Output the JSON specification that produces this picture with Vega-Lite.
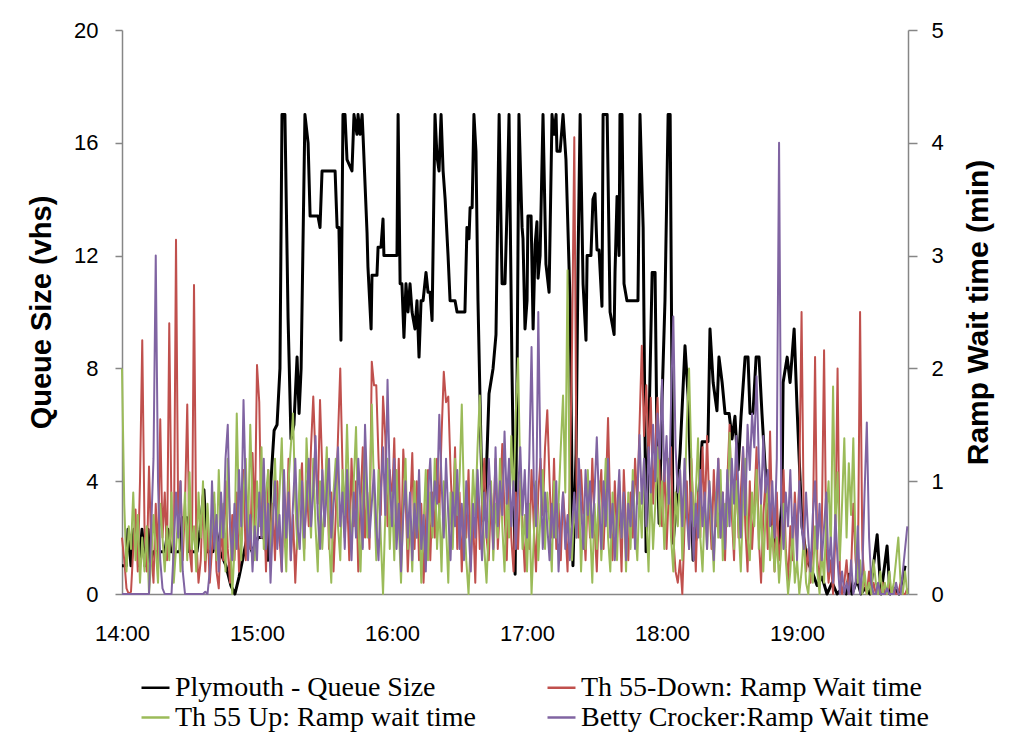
{
"$schema": "https://vega.github.io/schema/vega-lite/v6.json",
"width": 786, "height": 564,
"autosize": {"type": "none"},
"padding": {"left": 122, "top": 30, "right": 101, "bottom": 146},
"background": "white",
"config": {
  "view": {"stroke": null},
  "axis": {"grid": false, "domainColor": "#868686", "tickColor": "#868686", "labelColor": "#000000", "titleColor": "#000000", "labelFont": "Liberation Sans", "titleFont": "Liberation Sans", "labelFontSize": 22, "titleFontSize": 29, "titleFontWeight": "bold", "domainWidth": 1.5, "tickWidth": 1.5},
  "legend": {"orient": "none", "legendX": 18, "legendY": 642, "direction": "horizontal", "columns": 2,
             "symbolType": "stroke", "symbolSize": 784, "symbolStrokeWidth": 2.5, "labelFont": "Liberation Serif", "labelFontSize": 28, "labelColor": "#000000", "labelLimit": 0, "labelOffset": 4, "columnPadding": 66, "rowPadding": 0}
},
"datasets": {
"queue": [
{"t":0,"q":1.0},{"t":1.8,"q":1.0},{"t":2.7,"q":2.3},{"t":4.0,"q":1.0},{"t":5.3,"q":2.3},{"t":6.7,"q":2.3},{"t":7.6,"q":1.0},{"t":8.9,"q":2.3},{"t":10.2,"q":1.0},{"t":11.6,"q":2.3},{"t":12.4,"q":1.0},{"t":13.8,"q":1.5},{"t":19.1,"q":1.5},{"t":20.4,"q":2.3},{"t":21.8,"q":1.5},{"t":25.8,"q":1.5},{"t":26.7,"q":2.7},{"t":28.9,"q":2.7},{"t":29.8,"q":1.5},{"t":33.3,"q":1.5},{"t":34.7,"q":2.3},{"t":36.4,"q":3.7},{"t":37.8,"q":1.5},{"t":40.4,"q":1.5},{"t":41.8,"q":2.3},{"t":43.6,"q":1.5},{"t":46.2,"q":1.0},{"t":48.4,"q":0.3},{"t":50.2,"q":0.0},{"t":52.0,"q":0.6},{"t":53.8,"q":1.3},{"t":55.6,"q":2.0},{"t":57.8,"q":1.5},{"t":60.4,"q":2.0},{"t":63.1,"q":2.0},{"t":64.9,"q":1.2},{"t":66.2,"q":4.0},{"t":67.6,"q":5.8},{"t":68.9,"q":6.0},{"t":70.2,"q":8.0},{"t":71.1,"q":17},{"t":72.4,"q":17},{"t":73.8,"q":9.8},{"t":75.1,"q":5.5},{"t":76.4,"q":6.0},{"t":77.8,"q":8.4},{"t":78.7,"q":6.4},{"t":79.6,"q":8.0},{"t":81.3,"q":17},{"t":82.7,"q":16.0},{"t":83.6,"q":13.4},{"t":87.1,"q":13.4},{"t":88.0,"q":13.0},{"t":88.9,"q":15.0},{"t":94.7,"q":15.0},{"t":95.6,"q":13.0},{"t":96.4,"q":13.0},{"t":97.3,"q":9.0},{"t":98.2,"q":17},{"t":99.1,"q":17},{"t":100.0,"q":15.4},{"t":102.2,"q":15.0},{"t":103.1,"q":17},{"t":104.4,"q":16.3},{"t":104.9,"q":17},{"t":105.8,"q":16.3},{"t":106.7,"q":17},{"t":107.1,"q":16.3},{"t":108.9,"q":12.8},{"t":109.3,"q":11.6},{"t":110.7,"q":9.4},{"t":111.1,"q":11.3},{"t":113.3,"q":11.3},{"t":113.8,"q":12.3},{"t":115.1,"q":12.3},{"t":116.0,"q":13.3},{"t":116.4,"q":12.0},{"t":122.2,"q":12.0},{"t":122.7,"q":17},{"t":123.6,"q":11.0},{"t":124.4,"q":11.0},{"t":125.3,"q":9.1},{"t":126.2,"q":11.0},{"t":127.1,"q":10.0},{"t":128.0,"q":11.0},{"t":128.9,"q":10.0},{"t":130.2,"q":9.4},{"t":131.1,"q":10.4},{"t":132.0,"q":8.4},{"t":132.9,"q":10.4},{"t":133.8,"q":10.4},{"t":135.1,"q":11.4},{"t":136.0,"q":10.7},{"t":136.9,"q":10.7},{"t":137.8,"q":9.7},{"t":139.1,"q":17},{"t":140.0,"q":15.5},{"t":140.9,"q":15.0},{"t":141.8,"q":17},{"t":142.7,"q":15.0},{"t":143.6,"q":14.0},{"t":144.9,"q":12.0},{"t":145.8,"q":10.4},{"t":148.0,"q":10.4},{"t":148.9,"q":10.0},{"t":152.4,"q":10.0},{"t":153.3,"q":13.0},{"t":154.2,"q":12.6},{"t":154.7,"q":13.7},{"t":155.6,"q":13.7},{"t":156.4,"q":17},{"t":157.3,"q":15.7},{"t":158.2,"q":10.4},{"t":159.6,"q":5.0},{"t":160.4,"q":2.6},{"t":161.8,"q":4.0},{"t":163.1,"q":7.1},{"t":164.9,"q":8.0},{"t":166.2,"q":9.2},{"t":167.6,"q":17},{"t":168.9,"q":11.0},{"t":170.2,"q":11.0},{"t":171.1,"q":13.6},{"t":172.0,"q":17},{"t":173.3,"q":8.0},{"t":174.7,"q":0.7},{"t":175.6,"q":8.0},{"t":176.4,"q":17},{"t":177.8,"q":13.0},{"t":178.2,"q":12.6},{"t":179.1,"q":9.4},{"t":180.0,"q":10.4},{"t":180.4,"q":13.4},{"t":181.8,"q":13.4},{"t":182.7,"q":9.4},{"t":183.6,"q":12.4},{"t":184.4,"q":13.2},{"t":184.9,"q":11.2},{"t":185.8,"q":12.0},{"t":187.1,"q":17},{"t":188.4,"q":11.7},{"t":189.8,"q":10.7},{"t":191.1,"q":17},{"t":192.0,"q":16.3},{"t":192.9,"q":17},{"t":193.3,"q":15.7},{"t":194.7,"q":15.7},{"t":196.0,"q":17},{"t":197.3,"q":15.4},{"t":199.1,"q":10.4},{"t":200.4,"q":1.0},{"t":201.8,"q":5.0},{"t":202.7,"q":12.0},{"t":203.6,"q":17},{"t":204.9,"q":11.0},{"t":206.2,"q":9.0},{"t":206.7,"q":12.0},{"t":208.4,"q":12.0},{"t":209.3,"q":14.0},{"t":210.2,"q":14.2},{"t":211.1,"q":12.2},{"t":212.0,"q":12.2},{"t":213.3,"q":10.2},{"t":213.8,"q":17},{"t":215.6,"q":17},{"t":216.9,"q":10.0},{"t":218.7,"q":9.2},{"t":219.1,"q":11.4},{"t":220.0,"q":14.1},{"t":220.9,"q":12.0},{"t":221.3,"q":17},{"t":222.2,"q":17},{"t":223.1,"q":11.0},{"t":224.4,"q":10.4},{"t":229.3,"q":10.4},{"t":230.2,"q":17},{"t":231.6,"q":13.0},{"t":232.9,"q":1.5},{"t":234.2,"q":6.0},{"t":235.6,"q":11.4},{"t":236.9,"q":11.4},{"t":237.8,"q":5.0},{"t":238.7,"q":2.5},{"t":240.0,"q":6.9},{"t":241.3,"q":10.4},{"t":242.7,"q":17},{"t":243.6,"q":17},{"t":244.9,"q":1.8},{"t":246.2,"q":3.0},{"t":248.0,"q":5.0},{"t":250.2,"q":8.8},{"t":251.6,"q":7.0},{"t":253.8,"q":1.2},{"t":255.1,"q":2.0},{"t":257.8,"q":5.4},{"t":260.4,"q":5.4},{"t":261.3,"q":9.4},{"t":262.7,"q":7.5},{"t":264.4,"q":6.5},{"t":265.3,"q":8.4},{"t":266.7,"q":7.5},{"t":268.0,"q":6.4},{"t":269.8,"q":6.4},{"t":271.1,"q":5.5},{"t":272.4,"q":6.3},{"t":273.8,"q":4.4},{"t":275.1,"q":6.3},{"t":276.9,"q":8.4},{"t":278.2,"q":8.4},{"t":279.1,"q":6.4},{"t":280.4,"q":6.4},{"t":281.8,"q":8.4},{"t":283.1,"q":8.4},{"t":284.4,"q":6.4},{"t":285.8,"q":4.5},{"t":287.1,"q":3.3},{"t":289.3,"q":2.3},{"t":291.6,"q":1.4},{"t":293.3,"q":3.3},{"t":293.8,"q":7.5},{"t":295.6,"q":8.4},{"t":296.9,"q":7.5},{"t":298.7,"q":9.4},{"t":300.0,"q":6.6},{"t":302.2,"q":2.4},{"t":304.4,"q":1.2},{"t":306.7,"q":0.8},{"t":308.9,"q":0.3},{"t":311.1,"q":0.6},{"t":313.3,"q":0.0},{"t":315.6,"q":0.4},{"t":317.8,"q":0.0},{"t":320.0,"q":0.2},{"t":321.8,"q":0.0},{"t":323.1,"q":0.7},{"t":324.4,"q":0.0},{"t":326.7,"q":0.5},{"t":328.4,"q":0.0},{"t":330.2,"q":0.2},{"t":332.4,"q":0.0},{"t":335.6,"q":2.1},{"t":337.3,"q":0.0},{"t":340.0,"q":1.7},{"t":341.3,"q":0.0},{"t":343.1,"q":0.2},{"t":345.3,"q":0.0},{"t":347.1,"q":0.6},{"t":348.0,"q":1.0}
],
"ramp": [
{"t":0,"r":0.5,"g":2.0,"p":0},{"t":1,"r":0.3,"g":0.8,"p":0},{"t":2,"r":0.05,"g":0.2,"p":0},{"t":3,"r":0,"g":0.6,"p":0},{"t":4,"r":0.02,"g":0.4,"p":0},{"t":5,"r":0.4,"g":0.9,"p":0},{"t":6,"r":0.75,"g":0.3,"p":0},{"t":7,"r":0.2,"g":0.7,"p":0},{"t":8,"r":1.0,"g":0.1,"p":0},{"t":9,"r":2.25,"g":0.5,"p":0},
{"t":10,"r":0.6,"g":0.2,"p":0},{"t":11,"r":0.2,"g":0.6,"p":0},{"t":12,"r":1.13,"g":0,"p":0},{"t":13,"r":0.4,"g":0.3,"p":0.6},{"t":14,"r":0.1,"g":0.7,"p":1.2},{"t":15,"r":0.8,"g":0.4,"p":3.0},{"t":16,"r":0.3,"g":0.1,"p":1.0},{"t":17,"r":1.55,"g":0.8,"p":0.3},{"t":18,"r":0.5,"g":0.5,"p":0.05},{"t":19,"r":0.9,"g":0.2,"p":0},
{"t":20,"r":0.3,"g":0.6,"p":0},{"t":21,"r":2.4,"g":0.3,"p":0},{"t":22,"r":0.7,"g":0.9,"p":0},{"t":23,"r":0.2,"g":0.1,"p":0.4},{"t":24,"r":3.14,"g":0.4,"p":0.9},{"t":25,"r":0.6,"g":0.7,"p":0.5},{"t":26,"r":1.0,"g":0.2,"p":1.0},{"t":27,"r":0.3,"g":0.5,"p":0.2},{"t":28,"r":0.8,"g":0.9,"p":0},{"t":29,"r":1.68,"g":0.3,"p":0},
{"t":30,"r":0.4,"g":1.08,"p":0},{"t":31,"r":0.2,"g":0.4,"p":0},{"t":32,"r":2.74,"g":0.6,"p":0},{"t":33,"r":0.5,"g":0.2,"p":0},{"t":34,"r":0.1,"g":0.9,"p":0},{"t":35,"r":0.3,"g":0.5,"p":0},{"t":36,"r":0.9,"g":1.0,"p":0},{"t":37,"r":0.2,"g":0.3,"p":0.02},{"t":38,"r":0.6,"g":0.8,"p":0},{"t":39,"r":0.1,"g":0.4,"p":0.2},
{"t":40,"r":0.4,"g":0.6,"p":1.0},{"t":41,"r":0.8,"g":0.9,"p":0.4},{"t":42,"r":0.2,"g":0.3,"p":0.7},{"t":43,"r":0.05,"g":1.1,"p":0.2},{"t":44,"r":0.6,"g":0.5,"p":0.9},{"t":45,"r":0.3,"g":0.8,"p":0.5},{"t":46,"r":1.0,"g":0.2,"p":1.2},{"t":47,"r":0.4,"g":1.2,"p":1.5},{"t":48,"r":0.1,"g":0.6,"p":0.6},{"t":49,"r":0.7,"g":0,"p":0.3},
{"t":50,"r":0.3,"g":0.4,"p":0.8},{"t":51,"r":0.9,"g":1.6,"p":0.4},{"t":52,"r":0.2,"g":0.7,"p":1.1},{"t":53,"r":0.5,"g":0.3,"p":0.6},{"t":54,"r":1.1,"g":0.9,"p":1.72},{"t":55,"r":0.3,"g":1.2,"p":0.9},{"t":56,"r":0.8,"g":0.5,"p":0.3},{"t":57,"r":0.4,"g":1.5,"p":0.7},{"t":58,"r":1.25,"g":0.8,"p":0.2},{"t":59,"r":0.6,"g":0.3,"p":0.6},
{"t":60,"r":2.03,"g":1.0,"p":0.3},{"t":61,"r":1.7,"g":0.6,"p":0.9},{"t":62,"r":0.5,"g":1.3,"p":0.5},{"t":63,"r":0.9,"g":0.4,"p":1.2},{"t":64,"r":0.2,"g":0.9,"p":0.4},{"t":65,"r":1.1,"g":1.1,"p":0.8},{"t":66,"r":0.4,"g":0.3,"p":0.1},{"t":67,"r":0.8,"g":0.7,"p":0.6},{"t":68,"r":0.3,"g":1.2,"p":1.0},{"t":69,"r":1.0,"g":0.5,"p":0.4},
{"t":70,"r":0.5,"g":0.9,"p":0.7},{"t":71,"r":0.2,"g":1.38,"p":0.2},{"t":72,"r":0.9,"g":0.6,"p":1.1},{"t":73,"r":0.4,"g":0.2,"p":0.5},{"t":74,"r":1.2,"g":1.0,"p":0.9},{"t":75,"r":0.3,"g":1.3,"p":0.3},{"t":76,"r":0.7,"g":1.6,"p":0.8},{"t":77,"r":0.1,"g":0.8,"p":1.2},{"t":78,"r":0.6,"g":0.4,"p":0.6},{"t":79,"r":0.9,"g":1.1,"p":0.4},
{"t":80,"r":1.16,"g":0.7,"p":1.0},{"t":81,"r":0.4,"g":0.3,"p":0.5},{"t":82,"r":1.0,"g":1.38,"p":0.8},{"t":83,"r":0.6,"g":0.9,"p":1.2},{"t":84,"r":1.3,"g":0.5,"p":0.6},{"t":85,"r":1.75,"g":1.2,"p":0.9},{"t":86,"r":1.2,"g":0.6,"p":1.4},{"t":87,"r":0.8,"g":0.2,"p":0.7},{"t":88,"r":1.72,"g":1.0,"p":0.4},{"t":89,"r":1.1,"g":0.4,"p":1.1},
{"t":90,"r":0.6,"g":0.8,"p":0.6},{"t":91,"r":1.2,"g":1.3,"p":0.9},{"t":92,"r":0.4,"g":0.5,"p":1.2},{"t":93,"r":0.9,"g":0.1,"p":0.5},{"t":94,"r":0.2,"g":0.9,"p":0.8},{"t":95,"r":0.7,"g":1.2,"p":1.0},{"t":96,"r":1.4,"g":0.6,"p":1.3},{"t":97,"r":2.0,"g":0.3,"p":0.6},{"t":98,"r":1.1,"g":1.1,"p":0.9},{"t":99,"r":0.5,"g":0.7,"p":0.4},
{"t":100,"r":0.9,"g":1.5,"p":1.1},{"t":101,"r":0.3,"g":0.8,"p":0.7},{"t":102,"r":1.2,"g":0.4,"p":0.3},{"t":103,"r":0.6,"g":1.0,"p":0.9},{"t":104,"r":1.0,"g":1.48,"p":0.5},{"t":105,"r":0.2,"g":0.6,"p":1.2},{"t":106,"r":0.8,"g":0.2,"p":0.8},{"t":107,"r":1.3,"g":0.9,"p":0.4},{"t":108,"r":0.5,"g":1.3,"p":1.5},{"t":109,"r":0.9,"g":0.5,"p":0.9},
{"t":110,"r":0.4,"g":0.8,"p":0.5},{"t":111,"r":2.06,"g":1.68,"p":0.8},{"t":112,"r":1.85,"g":0.9,"p":1.1},{"t":113,"r":1.85,"g":0.3,"p":0.6},{"t":114,"r":1.2,"g":1.1,"p":0.3},{"t":115,"r":0.7,"g":0.5,"p":0.9},{"t":116,"r":1.75,"g":0,"p":1.3},{"t":117,"r":1.4,"g":0.7,"p":0.7},{"t":118,"r":0.6,"g":1.2,"p":1.9},{"t":119,"r":1.1,"g":0.4,"p":1.0},
{"t":120,"r":0.8,"g":0.9,"p":0.6},{"t":121,"r":1.38,"g":0.3,"p":1.2},{"t":122,"r":0.5,"g":1.1,"p":0.4},{"t":123,"r":1.2,"g":0.6,"p":0.8},{"t":124,"r":0.3,"g":0.1,"p":0.2},{"t":125,"r":1.28,"g":0.8,"p":0.7},{"t":126,"r":0.9,"g":1.2,"p":1.0},{"t":127,"r":0.2,"g":0.4,"p":0.5},{"t":128,"r":0.7,"g":0.7,"p":0.9},{"t":129,"r":1.25,"g":0.2,"p":0.3},
{"t":130,"r":0.4,"g":1.0,"p":0.8},{"t":131,"r":1.0,"g":0.5,"p":0.5},{"t":132,"r":0.3,"g":0.8,"p":1.1},{"t":133,"r":0.8,"g":0.1,"p":0.4},{"t":134,"r":0.1,"g":0.6,"p":0.7},{"t":135,"r":0.6,"g":1.1,"p":0.2},{"t":136,"r":1.1,"g":0.3,"p":0.9},{"t":137,"r":0.3,"g":0.9,"p":1.2},{"t":138,"r":0.9,"g":0.5,"p":0.6},{"t":139,"r":0.5,"g":1.2,"p":1.0},
{"t":140,"r":1.2,"g":0.4,"p":0.8},{"t":141,"r":0.7,"g":0.8,"p":1.59},{"t":142,"r":1.4,"g":0.2,"p":1.0},{"t":143,"r":1.97,"g":1.0,"p":0.5},{"t":144,"r":1.7,"g":0.6,"p":1.2},{"t":145,"r":1.75,"g":0.1,"p":0.7},{"t":146,"r":1.1,"g":0.9,"p":0.3},{"t":147,"r":0.6,"g":0.4,"p":0.9},{"t":148,"r":1.3,"g":1.2,"p":0.6},{"t":149,"r":0.4,"g":0.7,"p":1.1},
{"t":150,"r":0.9,"g":1.0,"p":0.4},{"t":151,"r":0.2,"g":1.68,"p":0.8},{"t":152,"r":0.8,"g":0.8,"p":0.3},{"t":153,"r":0.5,"g":0.3,"p":1.0},{"t":154,"r":1.1,"g":0,"p":0.6},{"t":155,"r":0.3,"g":0.5,"p":0.2},{"t":156,"r":0.7,"g":1.1,"p":0.8},{"t":157,"r":0.1,"g":0.7,"p":0.5},{"t":158,"r":1.0,"g":1.3,"p":1.1},{"t":159,"r":0.4,"g":1.76,"p":0.7},
{"t":160,"r":0.8,"g":0.9,"p":0.3},{"t":161,"r":1.2,"g":0.4,"p":0.9},{"t":162,"r":0.5,"g":0.1,"p":0.5},{"t":163,"r":0.3,"g":0.6,"p":1.2},{"t":164,"r":0.9,"g":1.0,"p":0.8},{"t":165,"r":0.6,"g":0.3,"p":0.4},{"t":166,"r":1.2,"g":0.8,"p":1.3},{"t":167,"r":0.4,"g":0.5,"p":0.6},{"t":168,"r":0.8,"g":1.2,"p":1.0},{"t":169,"r":1.33,"g":0.6,"p":0.7},
{"t":170,"r":0.7,"g":0.2,"p":1.44},{"t":171,"r":0.3,"g":0.9,"p":0.8},{"t":172,"r":1.1,"g":0.5,"p":1.2},{"t":173,"r":0.5,"g":1.4,"p":0.6},{"t":174,"r":0.2,"g":0.8,"p":1.0},{"t":175,"r":0.9,"g":1.6,"p":0.4},{"t":176,"r":0.4,"g":2.09,"p":0.9},{"t":177,"r":1.0,"g":1.0,"p":1.3},{"t":178,"r":0.6,"g":0.4,"p":0.7},{"t":179,"r":0.2,"g":0.7,"p":1.1},
{"t":180,"r":0.8,"g":0.2,"p":0.5},{"t":181,"r":0.4,"g":0.8,"p":1.2},{"t":182,"r":1.1,"g":0,"p":2.19},{"t":183,"r":0.6,"g":0.5,"p":1.0},{"t":184,"r":0.2,"g":1.0,"p":0.6},{"t":185,"r":0.9,"g":0.3,"p":2.5},{"t":186,"r":1.2,"g":0.7,"p":1.1},{"t":187,"r":0.7,"g":1.1,"p":0.4},{"t":188,"r":1.3,"g":0.4,"p":0.9},{"t":189,"r":1.63,"g":0.9,"p":0.6},
{"t":190,"r":1.0,"g":0.6,"p":0.3},{"t":191,"r":0.5,"g":0.2,"p":0.8},{"t":192,"r":1.2,"g":1.0,"p":0.5},{"t":193,"r":0.4,"g":0.5,"p":1.0},{"t":194,"r":0.8,"g":0.8,"p":0.2},{"t":195,"r":0.3,"g":1.3,"p":0.6},{"t":196,"r":0.9,"g":1.76,"p":0.9},{"t":197,"r":0.6,"g":0.9,"p":0.4},{"t":198,"r":0.2,"g":2.87,"p":0.7},{"t":199,"r":1.0,"g":0.6,"p":0.3},
{"t":200,"r":2.2,"g":0.3,"p":0.6},{"t":201,"r":4.05,"g":0.8,"p":0.9},{"t":202,"r":1.0,"g":0.5,"p":0.5},{"t":203,"r":0.5,"g":1.0,"p":1.2},{"t":204,"r":1.1,"g":0.2,"p":0.8},{"t":205,"r":0.7,"g":0.7,"p":0.4},{"t":206,"r":0.3,"g":0.4,"p":1.1},{"t":207,"r":0.9,"g":1.1,"p":0.7},{"t":208,"r":0.5,"g":0.6,"p":1.0},{"t":209,"r":1.2,"g":0.1,"p":0.5},
{"t":210,"r":0.6,"g":0.8,"p":0.9},{"t":211,"r":0.2,"g":0.4,"p":1.39},{"t":212,"r":0.8,"g":1.0,"p":0.8},{"t":213,"r":1.1,"g":0.3,"p":0.4},{"t":214,"r":0.4,"g":0.7,"p":1.0},{"t":215,"r":0.9,"g":1.2,"p":0.6},{"t":216,"r":1.56,"g":0.5,"p":1.2},{"t":217,"r":0.7,"g":0.2,"p":0.5},{"t":218,"r":0.3,"g":0.9,"p":0.8},{"t":219,"r":1.0,"g":0.6,"p":0.3},
{"t":220,"r":0.5,"g":0.3,"p":0.7},{"t":221,"r":0.8,"g":1.0,"p":1.1},{"t":222,"r":0.2,"g":0.5,"p":0.5},{"t":223,"r":1.1,"g":0.8,"p":0.9},{"t":224,"r":0.6,"g":0.2,"p":0.3},{"t":225,"r":0.3,"g":0.9,"p":0.8},{"t":226,"r":0.9,"g":0.4,"p":0.6},{"t":227,"r":0.5,"g":1.1,"p":1.0},{"t":228,"r":1.2,"g":0.6,"p":0.4},{"t":229,"r":0.8,"g":0.3,"p":0.9},
{"t":230,"r":1.5,"g":0.9,"p":1.41},{"t":231,"r":2.2,"g":0.5,"p":0.8},{"t":232,"r":1.4,"g":1.2,"p":1.2},{"t":233,"r":1.85,"g":0.7,"p":0.6},{"t":234,"r":1.2,"g":0.2,"p":1.3},{"t":235,"r":1.74,"g":1.0,"p":0.9},{"t":236,"r":0.8,"g":0.4,"p":1.5},{"t":237,"r":1.3,"g":0.8,"p":1.0},{"t":238,"r":1.74,"g":1.3,"p":1.6},{"t":239,"r":1.0,"g":0.6,"p":1.2},
{"t":240,"r":0.6,"g":1.0,"p":1.9},{"t":241,"r":1.2,"g":0.4,"p":1.0},{"t":242,"r":0.4,"g":0.8,"p":1.4},{"t":243,"r":0.9,"g":1.2,"p":0.8},{"t":244,"r":1.3,"g":0.5,"p":1.7},{"t":245,"r":0.5,"g":0.2,"p":2.46},{"t":246,"r":0.2,"g":0.9,"p":1.3},{"t":247,"r":0.1,"g":0.6,"p":0.9},{"t":248,"r":0.3,"g":1.1,"p":1.1},{"t":249,"r":0,"g":0.3,"p":0.6},
{"t":250,"r":0.6,"g":0.8,"p":1.2},{"t":251,"r":1.0,"g":1.5,"p":0.7},{"t":252,"r":0.4,"g":2.0,"p":0.4},{"t":253,"r":1.2,"g":1.2,"p":0.9},{"t":254,"r":0.7,"g":0.6,"p":0.3},{"t":255,"r":0.2,"g":0.9,"p":0.8},{"t":256,"r":0.9,"g":1.38,"p":0.5},{"t":257,"r":0.5,"g":0.5,"p":1.1},{"t":258,"r":1.3,"g":0.2,"p":0.6},{"t":259,"r":0.7,"g":0.8,"p":0.9},
{"t":260,"r":1.4,"g":0.4,"p":0.4},{"t":261,"r":0.8,"g":1.0,"p":1.0},{"t":262,"r":0.4,"g":0.6,"p":0.7},{"t":263,"r":1.1,"g":0.2,"p":0.3},{"t":264,"r":0.6,"g":0.9,"p":0.8},{"t":265,"r":1.2,"g":0.5,"p":1.2},{"t":266,"r":0.5,"g":1.1,"p":0.5},{"t":267,"r":0.9,"g":0.3,"p":0.9},{"t":268,"r":0.3,"g":0.8,"p":0.4},{"t":269,"r":1.0,"g":0.6,"p":1.1},
{"t":270,"r":1.5,"g":1.43,"p":0.6},{"t":271,"r":0.7,"g":0.9,"p":1.2},{"t":272,"r":0.3,"g":0.4,"p":0.8},{"t":273,"r":1.2,"g":1.0,"p":1.4},{"t":274,"r":0.5,"g":0.6,"p":0.9},{"t":275,"r":0.9,"g":0.2,"p":0.5},{"t":276,"r":1.3,"g":0.8,"p":1.3},{"t":277,"r":0.6,"g":1.2,"p":0.7},{"t":278,"r":0.2,"g":0.5,"p":1.5},{"t":279,"r":1.0,"g":0.3,"p":1.1},
{"t":280,"r":0.4,"g":0.9,"p":1.6},{"t":281,"r":0.8,"g":0.6,"p":1.3},{"t":282,"r":1.3,"g":1.1,"p":1.93},{"t":283,"r":0.5,"g":0.4,"p":1.2},{"t":284,"r":0.1,"g":0.8,"p":0.8},{"t":285,"r":0.7,"g":0.2,"p":1.4},{"t":286,"r":1.0,"g":0.7,"p":0.9},{"t":287,"r":0.4,"g":1.0,"p":1.1},{"t":288,"r":1.44,"g":0.3,"p":0.6},{"t":289,"r":0.6,"g":0.6,"p":1.0},
{"t":290,"r":0.2,"g":0.2,"p":0.5},{"t":291,"r":0.9,"g":0.5,"p":1.2},{"t":292,"r":0.3,"g":0.1,"p":4.0},{"t":293,"r":0.5,"g":0.4,"p":0.8},{"t":294,"r":1.1,"g":0.8,"p":0.4},{"t":295,"r":0.4,"g":0.3,"p":0.9},{"t":296,"r":0.1,"g":0,"p":0.6},{"t":297,"r":0.6,"g":0.2,"p":1.1},{"t":298,"r":0.3,"g":0.6,"p":0.5},{"t":299,"r":0.9,"g":0.1,"p":0.8},
{"t":300,"r":0.5,"g":0.3,"p":0.3},{"t":301,"r":1.0,"g":0,"p":1.0},{"t":302,"r":2.5,"g":0.2,"p":0.6},{"t":303,"r":0.6,"g":0.5,"p":0.4},{"t":304,"r":0.2,"g":0.1,"p":0.9},{"t":305,"r":0.4,"g":0,"p":0.5},{"t":306,"r":0.1,"g":0.3,"p":0.2},{"t":307,"r":0.5,"g":0.1,"p":0.7},{"t":308,"r":2.1,"g":0.6,"p":1.0},{"t":309,"r":0.3,"g":0.2,"p":0.4},
{"t":310,"r":0.1,"g":0,"p":0.8},{"t":311,"r":0.6,"g":0.4,"p":0.3},{"t":312,"r":2.16,"g":0.1,"p":0.6},{"t":313,"r":0.4,"g":0.7,"p":0.9},{"t":314,"r":0.1,"g":1.0,"p":0.2},{"t":315,"r":0.3,"g":0.4,"p":0.5},{"t":316,"r":0,"g":1.84,"p":0.1},{"t":317,"r":0.5,"g":0.6,"p":0.7},{"t":318,"r":2.0,"g":1.08,"p":0.3},{"t":319,"r":0.2,"g":0.3,"p":0},
{"t":320,"r":0,"g":0.8,"p":0.2},{"t":321,"r":0.1,"g":1.38,"p":0},{"t":322,"r":0.3,"g":0.5,"p":0.1},{"t":323,"r":0,"g":1.16,"p":0},{"t":324,"r":0.2,"g":0.7,"p":0.3},{"t":325,"r":0.8,"g":1.38,"p":0},{"t":326,"r":0.3,"g":0.4,"p":0.1},{"t":327,"r":0.1,"g":0.1,"p":0.6},{"t":328,"r":2.5,"g":0.3,"p":0},{"t":329,"r":0.4,"g":0,"p":0.2},
{"t":330,"r":0.1,"g":0.2,"p":0.9},{"t":331,"r":0,"g":0,"p":1.52},{"t":332,"r":0.2,"g":0.1,"p":0.5},{"t":333,"r":0,"g":0,"p":0.1},{"t":334,"r":0.1,"g":0.3,"p":0},{"t":335,"r":0,"g":0.1,"p":0},{"t":336,"r":0.05,"g":0,"p":0.1},{"t":337,"r":0,"g":0.2,"p":0},{"t":338,"r":0.1,"g":0,"p":0},{"t":339,"r":0,"g":0.1,"p":0},
{"t":340,"r":0,"g":0,"p":0.05},{"t":341,"r":0.1,"g":0.2,"p":0},{"t":342,"r":0,"g":0,"p":0},{"t":343,"r":0.05,"g":0.1,"p":0},{"t":344,"r":0,"g":0.3,"p":0.1},{"t":345,"r":0,"g":0.5,"p":0},{"t":346,"r":0.1,"g":0.1,"p":0},{"t":347,"r":0,"g":0,"p":0.2},{"t":348,"r":0,"g":0.2,"p":0.4},{"t":349,"r":0.05,"g":0,"p":0.6}
]
},
"layer": [
  {
    "data": {"name": "queue"},
    "mark": {"type": "line", "strokeWidth": 3, "strokeJoin": "round"},
    "encoding": {
      "x": {"field": "t", "type": "quantitative", "scale": {"domain": [0, 349.3], "nice": false, "zero": false},
            "axis": {"values": [0, 60, 120, 180, 240, 300], "labelExpr": "(14 + datum.value / 60) + ':00'", "ticks": false, "labelPadding": 29, "title": null, "labelFlush": false}},
      "y": {"field": "q", "type": "quantitative", "scale": {"domain": [0, 20], "nice": false},
            "axis": {"orient": "left", "values": [0, 4, 8, 12, 16, 20], "tickSize": 7, "labelPadding": 17, "title": "Queue Size (vhs)", "titlePadding": 17}},
      "color": {"datum": "q", "type": "nominal",
                "scale": {"domain": ["q", "r", "g", "p"], "range": ["#000000", "#C0504D", "#9BBB59", "#8064A2"]},
                "legend": {"title": null, "labelExpr": "datum.value == 'q' ? 'Plymouth - Queue Size' : datum.value == 'r' ? 'Th 55-Down: Ramp Wait time' : datum.value == 'g' ? 'Th 55 Up: Ramp wait time' : 'Betty Crocker:Ramp Wait time'"}}
    }
  },
  {
    "data": {"name": "ramp"},
    "transform": [{"fold": ["r", "g", "p"], "as": ["series", "v"]}],
    "mark": {"type": "line", "strokeWidth": 2, "strokeJoin": "round"},
    "encoding": {
      "x": {"field": "t", "type": "quantitative"},
      "y": {"field": "v", "type": "quantitative", "scale": {"domain": [0, 5], "nice": false},
            "axis": {"orient": "right", "values": [0, 1, 2, 3, 4, 5], "tickSize": 9, "labelPadding": 14, "title": "Ramp Wait time (min)", "titleFontSize": 30, "titleAngle": 270, "titleBaseline": "top", "titlePadding": 20}},
      "color": {"field": "series", "type": "nominal",
                "legend": {"title": null, "labelExpr": "datum.value == 'q' ? 'Plymouth - Queue Size' : datum.value == 'r' ? 'Th 55-Down: Ramp Wait time' : datum.value == 'g' ? 'Th 55 Up: Ramp wait time' : 'Betty Crocker:Ramp Wait time'"}},
      "detail": {"field": "series"}
    }
  }
],
"resolve": {"scale": {"y": "independent"}}
}
